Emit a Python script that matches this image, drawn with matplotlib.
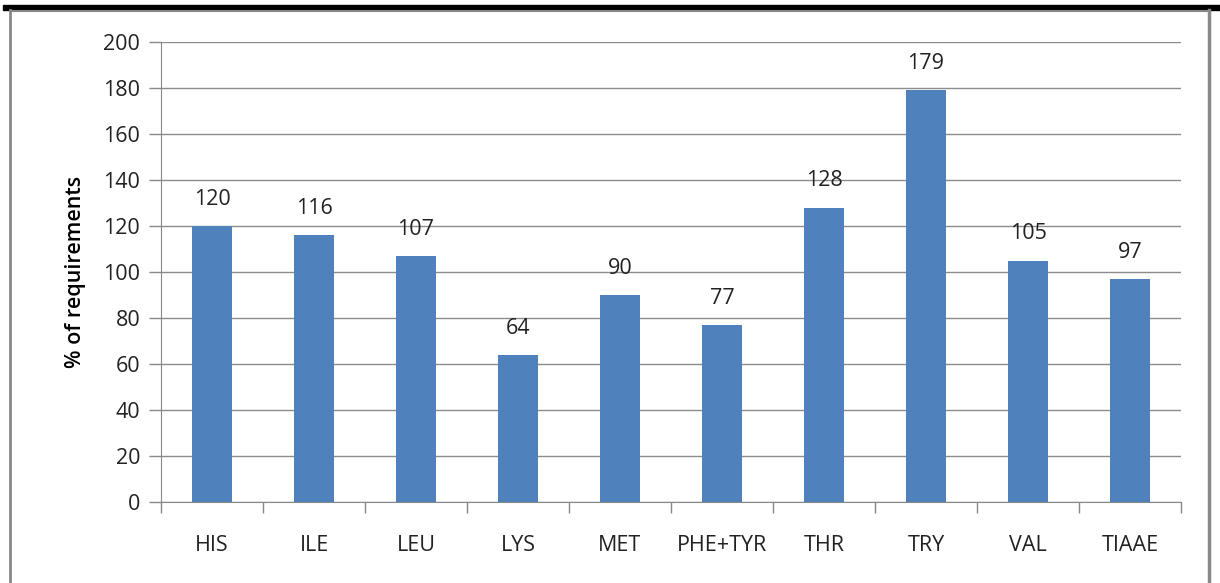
import matplotlib.pyplot as plt
from matplotlib.lines import Line2D
from matplotlib.patches import Rectangle

amino = ['HIS', 'ILE', 'LEU', 'LYS', 'MET', 'PHE+TYR', 'THR', 'TRY', 'VAL', 'TIAAE']
pct = [120, 116, 107, 64, 90, 77, 128, 179, 105, 97]

W, H = 1220, 583
fig = plt.figure(figsize=(W / 100, H / 100), dpi=100)
plt.rcParams['font.family'] = ['Open Sans', 'DejaVu Sans']

# axes placed in pixel terms
x0, x1 = 161, 1181
y0, y1 = 502, 42
ax = fig.add_axes([x0 / W, 1 - y0 / H, (x1 - x0) / W, (y0 - y1) / H])

xs = range(len(amino))
ax.bar(xs, pct, width=0.4, color='#4f81bd', zorder=3)
for x, v in zip(xs, pct):
    ax.text(x, v + 7, str(v), ha='center', va='bottom', fontsize=15.5, color='#222222')

ax.set_xlim(-0.5, len(amino) - 0.5)
ax.set_ylim(0, 200)
ax.set_yticks(range(0, 201, 20))
ax.set_xticks(xs)
ax.set_xticklabels(amino)
ax.set_xticks([i - 0.5 for i in range(len(amino) + 1)], minor=True)
ax.tick_params(axis='x', which='major', length=0, pad=24, labelsize=15.5, labelcolor='#222222')
ax.tick_params(axis='x', which='minor', length=8, width=1, color='#888888', direction='out')
ax.tick_params(axis='y', length=9, width=1, color='#888888', pad=6, labelsize=15.5, labelcolor='#222222')
ax.grid(axis='y', color='#8c8c8c', linewidth=1, zorder=0)
for s in ['top', 'right']:
    ax.spines[s].set_visible(False)
ax.spines['left'].set_color('#888888')
ax.spines['bottom'].set_color('#888888')
ax.set_ylabel('% of requirements', fontsize=15.5, fontweight='semibold', labelpad=12)

# outer frame and black top bar
fig.add_artist(Line2D([10 / W, 10 / W], [0, 1 - 10 / H], transform=fig.transFigure, color='#888888', lw=2))
fig.add_artist(Line2D([1209 / W, 1209 / W], [0, 1 - 10 / H], transform=fig.transFigure, color='#888888', lw=2.5))
fig.add_artist(Line2D([10 / W, 1209 / W], [1 - 11 / H, 1 - 11 / H], transform=fig.transFigure, color='#888888', lw=1.5))
fig.add_artist(Rectangle((3 / W, 1 - 10 / H), 1, 5 / H, transform=fig.transFigure, color='black'))

fig.savefig('out.png', dpi=100)
